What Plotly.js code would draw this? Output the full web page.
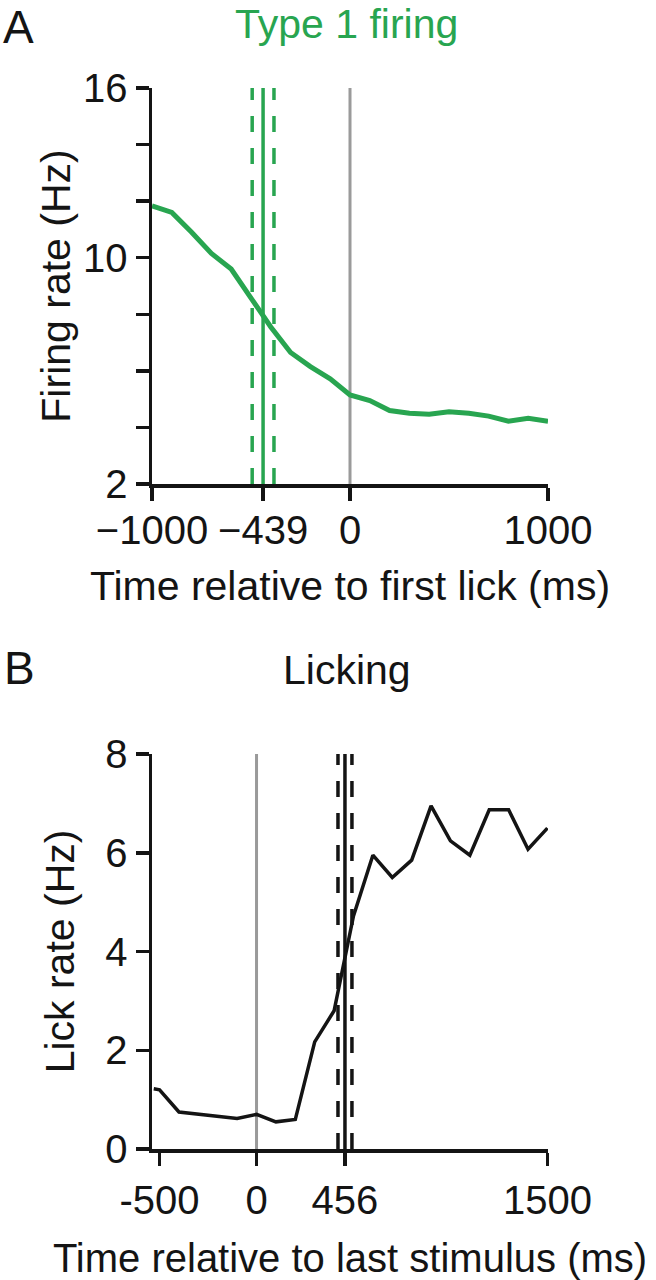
<!DOCTYPE html>
<html>
<head>
<meta charset="utf-8">
<script src="https://cdn.plot.ly/plotly-3.0.1.min.js"></script>
<style>
  html, body { margin: 0; padding: 0; background: #fff; }
  #chart { width: 656px; height: 1280px; }
</style>
</head>
<body>
<div id="chart"></div>
<script>
// ---- Panel A data: Type 1 firing rate vs time relative to first lick ----
const firingTime = [-1000, -900, -800, -700, -600, -500, -400, -300, -200, -100, 0, 100, 200, 300, 400, 500, 600, 700, 800, 900, 1000];
const firingRate = [11.83, 11.6, 10.9, 10.15, 9.6, 8.55, 7.55, 6.65, 6.15, 5.72, 5.15, 4.95, 4.6, 4.5, 4.47, 4.55, 4.5, 4.4, 4.22, 4.32, 4.22];
const firingOnset = -439;
const firingOnsetCI = [-494, -384];
const firingXTickVals = [-1000, -439, 0, 1000];
const firingXTickText = ['\u22121000', '\u2212439', '0', '1000'];
const firingYTickVals = [2, 4, 6, 8, 10, 12, 14, 16];
const firingYTickText = ['2', '', '', '', '10', '', '', '16'];

// ---- Panel B data: Lick rate vs time relative to last stimulus ----
const lickTime = [-530, -500, -400, -300, -200, -100, 0, 100, 200, 300, 400, 500, 600, 700, 800, 900, 1000, 1100, 1200, 1300, 1400, 1500];
const lickRate = [1.22, 1.2, 0.75, 0.71, 0.67, 0.62, 0.7, 0.55, 0.6, 2.17, 2.8, 4.72, 5.95, 5.5, 5.85, 6.95, 6.24, 5.95, 6.87, 6.87, 6.07, 6.5];
const lickOnset = 456;
const lickOnsetCI = [420, 492];
const lickXTickVals = [-500, 0, 456, 1500];
const lickXTickText = ['-500', '0', '456', '1500'];
const lickYTickVals = [0, 2, 4, 6, 8];

const GREEN = '#28a550';
const GRAY = '#9a9a9a';
const INK = '#141414';
const FONT = 'Liberation Sans, Arial, Helvetica, sans-serif';
const W = 656, H = 1280;
const px = v => v / W;
const py = v => 1 - v / H;

function vline(x, y0, y1, color, width, dash, xa, ya) {
  return { x: [x, x], y: [y0, y1], xaxis: xa, yaxis: ya, mode: 'lines',
    line: { color: color, width: width, dash: dash }, hoverinfo: 'skip', showlegend: false };
}

const traces = [
  vline(0, 2, 16, GRAY, 3, 'solid', 'x', 'y'),
  vline(firingOnsetCI[0], 2, 16, GREEN, 3.5, '16px,16px', 'x', 'y'),
  vline(firingOnsetCI[1], 2, 16, GREEN, 3.5, '16px,16px', 'x', 'y'),
  vline(firingOnset, 2, 16, GREEN, 3.5, 'solid', 'x', 'y'),
  { x: firingTime, y: firingRate, xaxis: 'x', yaxis: 'y', mode: 'lines',
    line: { color: GREEN, width: 5 }, showlegend: false },

  vline(0, 0, 8, GRAY, 3, 'solid', 'x2', 'y2'),
  vline(lickOnsetCI[0], 0, 8, INK, 3.5, '16px,16px', 'x2', 'y2'),
  vline(lickOnsetCI[1], 0, 8, INK, 3.5, '16px,16px', 'x2', 'y2'),
  vline(lickOnset, 0, 8, INK, 3.5, 'solid', 'x2', 'y2'),
  { x: lickTime, y: lickRate, xaxis: 'x2', yaxis: 'y2', mode: 'lines',
    line: { color: INK, width: 3.5 }, showlegend: false }
];

const axisCommon = {
  showline: true, linecolor: INK, linewidth: 3.5,
  ticks: 'outside', ticklen: 13, tickwidth: 3.5, tickcolor: INK,
  showgrid: false, zeroline: false, fixedrange: true,
  tickfont: { family: FONT, size: 40, color: INK },
  tickmode: 'array'
};
const xDomain = [px(152), px(548)];
const titleFont = { family: FONT, size: 41, color: INK };

const layout = {
  width: W, height: H,
  margin: { l: 0, r: 0, t: 0, b: 0 },
  paper_bgcolor: '#fff', plot_bgcolor: '#fff',
  font: { family: FONT, color: INK },
  showlegend: false,
  xaxis: Object.assign({}, axisCommon, {
    domain: xDomain, range: [-1000, 1000], anchor: 'y',
    tickvals: firingXTickVals, ticktext: firingXTickText, ticklabelstandoff: -5,
    title: { text: 'Time relative to first lick (ms)', font: titleFont, standoff: 22 }
  }),
  yaxis: Object.assign({}, axisCommon, {
    domain: [py(484), py(88)], range: [2, 16], anchor: 'x',
    tickvals: firingYTickVals, ticktext: firingYTickText,
    title: { text: 'Firing rate (Hz)', font: titleFont, standoff: 0 }
  }),
  xaxis2: Object.assign({}, axisCommon, {
    domain: xDomain, range: [-539, 1503], anchor: 'y2',
    tickvals: lickXTickVals, ticktext: lickXTickText,
    title: { text: 'Time relative to last stimulus (ms)', font: { family: FONT, size: 40, color: INK }, standoff: 24 }
  }),
  yaxis2: Object.assign({}, axisCommon, {
    domain: [py(1149), py(754)], range: [0, 8], anchor: 'x2',
    tickvals: lickYTickVals, ticktext: lickYTickVals.map(String),
    title: { text: 'Lick rate (Hz)', font: titleFont, standoff: 19 }
  }),
  annotations: [
    { text: 'A', xref: 'paper', yref: 'paper', x: px(2), y: 1, xanchor: 'left', yanchor: 'top',
      showarrow: false, borderpad: 0, font: { family: FONT, size: 46, color: INK } },
    { text: 'Type 1 firing', xref: 'paper', yref: 'paper', x: px(346), y: py(24), xanchor: 'center', yanchor: 'middle',
      showarrow: false, font: { family: FONT, size: 41, color: GREEN } },
    { text: 'B', xref: 'paper', yref: 'paper', x: px(2), y: py(668), xanchor: 'left', yanchor: 'middle',
      showarrow: false, font: { family: FONT, size: 46, color: INK } },
    { text: 'Licking', xref: 'paper', yref: 'paper', x: px(347), y: py(670), xanchor: 'center', yanchor: 'middle',
      showarrow: false, font: { family: FONT, size: 41, color: INK } }
  ]
};

Plotly.newPlot('chart', traces, layout, { staticPlot: true, displayModeBar: false });
</script>
</body>
</html>
